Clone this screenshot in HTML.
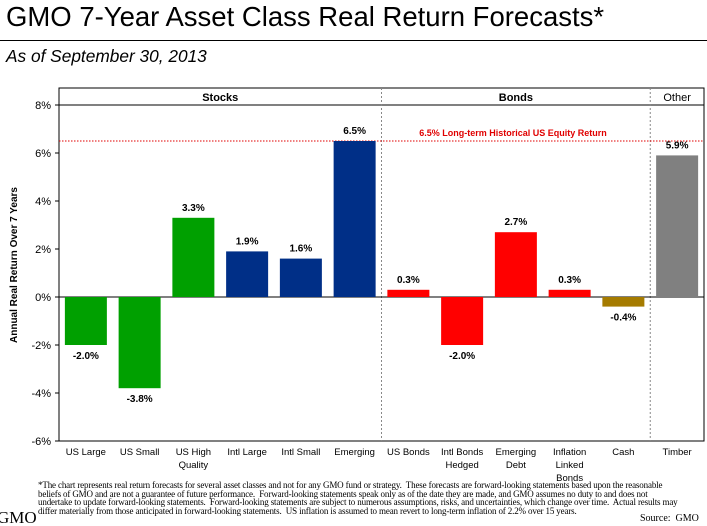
<!DOCTYPE html>
<html><head><meta charset="utf-8"><style>
body{margin:0;background:#fff;font-family:"Liberation Sans",Arial,sans-serif;}
#wrap{position:relative;width:707px;height:526px;overflow:hidden;}
.t{position:absolute;white-space:nowrap;}
</style></head><body>
<div id="wrap">
<div class="t" style="left:6px;top:1px;font-size:27.5px;">GMO 7-Year Asset Class Real Return Forecasts*</div>
<div style="position:absolute;left:0;top:40px;width:707px;height:1px;background:#000;"></div>
<div class="t" style="left:6px;top:46px;font-size:17.3px;font-style:italic;">As of September 30, 2013</div>
<svg id="chart" width="707" height="526" style="position:absolute;left:0;top:0"></svg>
<div class="t" style="left:38px;top:481px;font-family:'Liberation Serif',serif;font-size:9px;line-height:8.6px;letter-spacing:-0.15px;white-space:normal;width:642px;">*The chart represents real return forecasts for several asset classes and not for any GMO fund or strategy.&nbsp; These forecasts are forward-looking statements based upon the reasonable beliefs of GMO and are not a guarantee of future performance.&nbsp; Forward-looking statements speak only as of the date they are made, and GMO assumes no duty to and does not undertake to update forward-looking statements.&nbsp; Forward-looking statements are subject to numerous assumptions, risks, and uncertainties, which change over time.&nbsp; Actual results may differ materially from those anticipated in forward-looking statements.&nbsp; US inflation is assumed to mean revert to long-term inflation of 2.2% over 15 years.</div>
<div class="t" style="left:640px;top:513px;font-family:'Liberation Serif',serif;font-size:10px;">Source:&nbsp; GMO</div>
<div class="t" style="left:-3px;top:508px;font-family:'Liberation Serif',serif;font-size:17px;">GMO</div>
</div>
<script>
const categories=["US Large","US Small","US High|Quality","Intl Large","Intl Small","Emerging","US Bonds","Intl Bonds|Hedged","Emerging|Debt","Inflation|Linked|Bonds","Cash","Timber"];
const values=[-2.0,-3.8,3.3,1.9,1.6,6.5,0.3,-2.0,2.7,0.3,-0.4,5.9];
const valueLabels=["-2.0%","-3.8%","3.3%","1.9%","1.6%","6.5%","0.3%","-2.0%","2.7%","0.3%","-0.4%","5.9%"];
const colors=["#00a000","#00a000","#00a000","#002f87","#002f87","#002f87","#ff0000","#ff0000","#ff0000","#ff0000","#a57b00","#808080"];
const yTicks=[8,6,4,2,0,-2,-4,-6];
const yTickLabels=["8%","6%","4%","2%","0%","-2%","-4%","-6%"];
const groups=[{name:"Stocks",from:0,to:6},{name:"Bonds",from:6,to:11},{name:"Other",from:11,to:12}];
const benchmark=6.5;
const svg=document.getElementById('chart');const NS='http://www.w3.org/2000/svg';
const L=59,R=704,T=88,B=441,H0=105;
const y=v=>297-v*24;const bw=(R-L)/categories.length;const xc=i=>L+bw*(i+0.5);const xe=i=>L+bw*i;
function mk(tag,a,txt){const e=document.createElementNS(NS,tag);for(const k in a)e.setAttribute(k,a[k]);if(txt!=null)e.textContent=txt;svg.appendChild(e);return e;}
let e=mk('rect',{x:L,y:T,width:R-L,height:B-T,fill:'none',stroke:'#000','stroke-width':1});

e=mk('line',{x1:L,x2:R,y1:H0,y2:H0,stroke:'#000'});

groups.forEach((g,i)=>{
 const t=mk('text',{x:(xe(g.from)+xe(g.to))/2,y:101,'text-anchor':'middle','font-size':11,'font-weight':g.name=='Other'?'normal':'bold'},g.name);
 
 if(i>0){const d=mk('line',{x1:xe(g.from),x2:xe(g.from),y1:T,y2:B,stroke:'#888','stroke-dasharray':'2,2'});
 }
});
yTicks.forEach((v,i)=>{
 const l=mk('line',{x1:L-4,x2:L,y1:y(v),y2:y(v),stroke:'#000'});
 
 const t=mk('text',{x:L-8,y:y(v)+4,'text-anchor':'end','font-size':11},yTickLabels[i]);
 
});
e=mk('line',{x1:L,x2:R,y1:y(0),y2:y(0),stroke:'#000'});

e=mk('line',{x1:L,x2:R,y1:y(benchmark),y2:y(benchmark),stroke:'#e00000','stroke-dasharray':'1.5,1.5'});

e=mk('text',{x:513,y:y(benchmark)-5,'text-anchor':'middle','font-size':9,'font-weight':'bold',fill:'#e00000'},benchmark.toFixed(1)+'% Long-term Historical US Equity Return');

const w=42;
values.forEach((v,i)=>{
 const r=mk('rect',{x:xc(i)-w/2,y:Math.min(y(v),y(0)),width:w,height:Math.abs(y(v)-y(0)),fill:colors[i]});
 
 const ly=v>=0?y(v)-7:y(v)+14;
 const t=mk('text',{x:xc(i),y:ly,'text-anchor':'middle','font-size':10,'font-weight':'bold'},valueLabels[i]);
 
 categories[i].split('|').forEach((s,j)=>{
  const c=mk('text',{x:xc(i),y:455+j*13,'text-anchor':'middle','font-size':9.5},s);
  
 });
});
e=mk('text',{x:0,y:0,transform:'translate(17,265) rotate(-90)','text-anchor':'middle','font-size':10,'font-weight':'bold'},'Annual Real Return Over 7 Years');

</script>
</body></html>
